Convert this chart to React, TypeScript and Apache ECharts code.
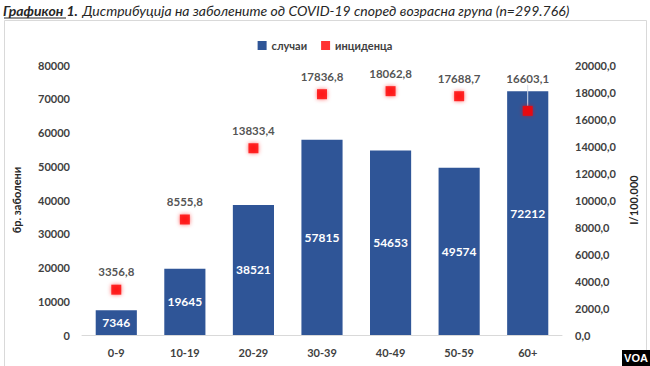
import React, { useEffect, useRef } from "react";
import * as echarts from "echarts";

const categories = ["0-9", "10-19", "20-29", "30-39", "40-49", "50-59", "60+"];
const cases = [7346, 19645, 38521, 57815, 54653, 49574, 72212];
const incidence = [3356.8, 8555.8, 13833.4, 17836.8, 18062.8, 17688.7, 16603.1];
const seriesNames = ["случаи", "инциденца"];
const leftAxisName = "бр. заболени";
const rightAxisName = "I/100.000";
const titleBold = "Графикон 1";
const titleRest = "Дистрибуција на заболените од COVID-19 според возрасна група (n=299.766)";

const fmtComma = (v: number) => v.toFixed(1).replace(".", ",");

export default function App() {
  const ref = useRef<HTMLDivElement>(null);
  useEffect(() => {
    if (!ref.current) return;
    const chart = echarts.init(ref.current, undefined, { renderer: "svg" });
    const font = "Lato, 'Open Sans', sans-serif";
    const last = incidence.length - 1;
    chart.setOption({
      animation: false,
      backgroundColor: "#ffffff",
      textStyle: { fontFamily: font },
      title: {
        left: 3,
        top: 1,
        padding: 0,
        text: `{b|${titleBold}}{bd|.} {i|${titleRest}}`,
        textStyle: {
          fontWeight: "normal",
          rich: {
            b: { fontFamily: font, fontWeight: "bold", fontStyle: "italic", fontSize: 14, color: "#262626" },
            bd: { fontFamily: font, fontWeight: "bold", fontStyle: "italic", fontSize: 14, color: "#262626" },
            i: { fontFamily: font, fontWeight: "normal", fontStyle: "italic", fontSize: 14, color: "#262626" },
          },
        },
      },
      graphic: [
        {
          type: "rect",
          silent: true,
          z: -10,
          shape: { x: 4.5, y: 20.5, width: 642, height: 360 },
          style: { fill: "#ffffff", stroke: "#d9d9d9", lineWidth: 1 },
        },
        {
          type: "line",
          silent: true,
          shape: { x1: 4, y1: 18, x2: 66, y2: 18 },
          style: { stroke: "#262626", lineWidth: 1.2 },
        },
        {
          type: "rect",
          silent: true,
          shape: { x: 622, y: 350, width: 28, height: 16 },
          style: { fill: "#000000" },
        },
        {
          type: "text",
          silent: true,
          x: 636,
          y: 358,
          style: {
            text: "VOA",
            fill: "#ffffff",
            font: "bold 11px 'Liberation Sans', Arial, sans-serif",
            textAlign: "center",
            textVerticalAlign: "middle",
          },
        },
      ],
      legend: {
        top: 35,
        left: "center",
        itemWidth: 9,
        itemHeight: 9,
        itemGap: 14,
        icon: "rect",
        textStyle: { fontFamily: font, fontSize: 11, fontWeight: "bold", color: "#404040" },
        data: seriesNames,
      },
      grid: { left: 82, right: 88, top: 65, bottom: 31 },
      xAxis: {
        type: "category",
        data: categories,
        axisTick: { show: false },
        axisLine: { lineStyle: { color: "#d9d9d9" } },
        axisLabel: { color: "#404040", fontSize: 11, fontWeight: "bold", margin: 12, fontFamily: font },
      },
      yAxis: [
        {
          type: "value",
          min: 0,
          max: 80000,
          interval: 10000,
          splitLine: { show: false },
          axisLine: { show: false },
          axisTick: { show: false },
          axisLabel: {
            color: "#404040",
            fontSize: 11,
            fontWeight: "bold",
            margin: 12,
            fontFamily: font,
            formatter: (v: number) => String(v),
          },
          name: leftAxisName,
          nameLocation: "middle",
          nameRotate: 90,
          nameGap: 60,
          nameTextStyle: { color: "#262626", fontSize: 11, fontWeight: "bold", fontFamily: font },
        },
        {
          type: "value",
          min: 0,
          max: 20000,
          interval: 2000,
          splitLine: { show: false },
          axisLine: { show: false },
          axisTick: { show: false },
          axisLabel: {
            color: "#404040",
            fontSize: 11,
            fontWeight: "bold",
            margin: 13,
            fontFamily: font,
            formatter: (v: number) => fmtComma(v),
          },
          name: rightAxisName,
          nameLocation: "middle",
          nameRotate: 90,
          nameGap: 66,
          nameTextStyle: { color: "#262626", fontSize: 11, fontWeight: "bold", fontFamily: font },
        },
      ],
      series: [
        {
          name: seriesNames[0],
          type: "bar",
          data: cases,
          barWidth: "60%",
          itemStyle: { color: "#2F5597" },
          label: {
            show: true,
            position: "inside",
            color: "#ffffff",
            fontSize: 12,
            fontWeight: "bold",
            fontFamily: font,
          },
        },
        {
          name: seriesNames[1],
          type: "scatter",
          yAxisIndex: 1,
          symbol: "rect",
          symbolSize: 10,
          itemStyle: { color: "#ff0000", shadowBlur: 4, shadowColor: "rgba(255,0,0,0.7)" },
          z: 5,
          data: incidence.map((v, i) =>
            i === last
              ? { value: v, labelLine: { show: true } }
              : { value: v, labelLine: { show: false } }
          ),
          labelLine: { show: true, lineStyle: { color: "#d5dcea", width: 1 } },
          labelLayout: (p: any) => (p.dataIndex === last ? { dy: -14 } : {}),
          label: {
            show: true,
            position: "top",
            distance: 7,
            color: "#262626",
            fontSize: 11.5,
            fontWeight: "bold",
            fontFamily: font,
            formatter: (p: any) => fmtComma(p.value as number),
          },
        },
      ],
    });
    return () => chart.dispose();
  }, []);
  return (
    <div
      ref={ref}
      style={{ position: "absolute", left: 0, top: 0, width: 650, height: 366 }}
    />
  );
}
